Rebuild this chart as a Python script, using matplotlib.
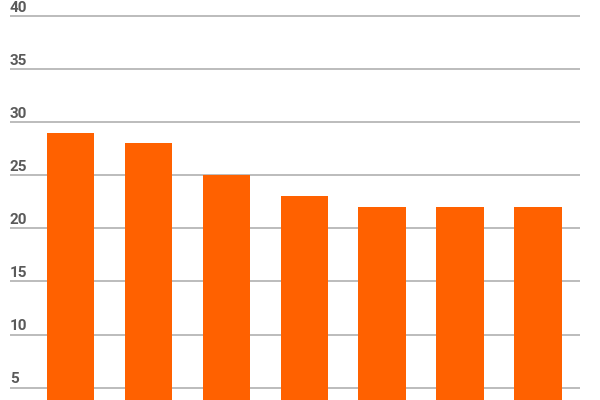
import matplotlib.pyplot as plt
import matplotlib.transforms as mtransforms

# Bar values
categories = ["A", "B", "C", "D", "E", "F", "G"]
values = [29, 28, 25, 23, 22, 22, 22]
yticks = [5, 10, 15, 20, 25, 30, 35, 40]

bar_color = "#FF6100"
grid_color = "#b0b0b0"
label_color = "#5a5a5a"

fig = plt.figure(figsize=(6, 4), dpi=100)
ax = fig.add_axes([10 / 600, 0, 570 / 600, 1])

x = range(len(categories))
ax.bar(x, values, width=0.61, color=bar_color, zorder=3)

ax.set_xlim(-0.78, 6.54)
ax.set_ylim(3.84, 41.5)

for t in yticks:
    ax.axhline(t, color=grid_color, linewidth=1.2, zorder=1)

trans = mtransforms.blended_transform_factory(ax.transAxes, ax.transData)
for t in yticks:
    ax.text(0, t + 0.4, str(t), transform=trans, ha="left", va="baseline",
            fontsize=11, color=label_color, family="Roboto", fontweight="bold")

ax.set_xticks([])
ax.set_yticks([])
for s in ax.spines.values():
    s.set_visible(False)

fig.savefig("out.png", dpi=100)
